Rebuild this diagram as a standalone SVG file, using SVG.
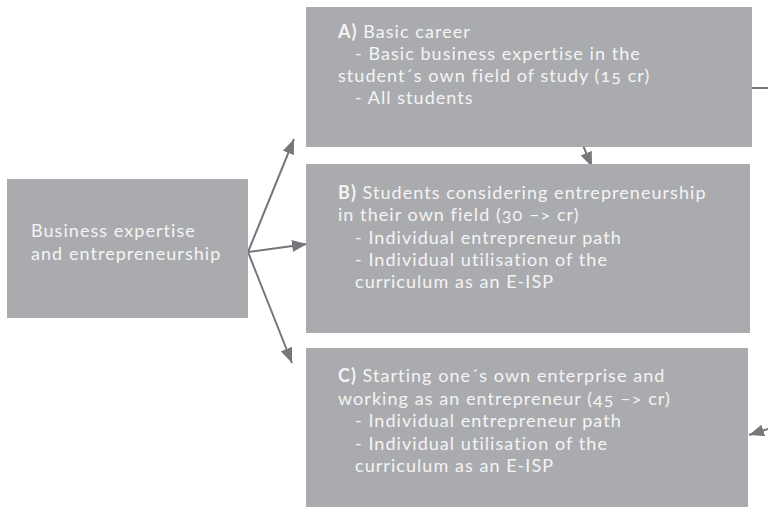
<svg xmlns="http://www.w3.org/2000/svg" width="768" height="512" viewBox="0 0 768 512">
  <defs>
    <marker id="ah" markerUnits="userSpaceOnUse" markerWidth="16" markerHeight="12" refX="15" refY="6" orient="auto">
      <path d="M0,0 L15,6 L0,12 z" fill="#77767b"/>
    </marker>
    <style>
      .box { fill: #aaabae; }
      .t { font-family: Lato, "Open Sans", sans-serif; font-size: 18px; letter-spacing: 1.05px; fill: #f4f4f4; font-variant-numeric: oldstyle-nums; }
      .b { font-weight: bold; }
      .c { stroke: #77767b; stroke-width: 2; fill: none; }
    </style>
  </defs>
  <rect width="768" height="512" fill="#ffffff"/>

  <g id="connectors">
    <line class="c" x1="248" y1="252" x2="294" y2="139" marker-end="url(#ah)"/>
    <line class="c" x1="248" y1="252" x2="307" y2="244" marker-end="url(#ah)"/>
    <line class="c" x1="248" y1="252" x2="292" y2="363" marker-end="url(#ah)"/>
    <line class="c" x1="582" y1="143" x2="592" y2="167" marker-end="url(#ah)"/>
    <line class="c" x1="752" y1="88" x2="768" y2="88"/>
    <line class="c" x1="790" y1="422" x2="749" y2="435" marker-end="url(#ah)"/>
  </g>

  <g id="root">
    <rect class="box" x="7" y="179" width="241" height="139"/>
    <text class="t" x="31" y="237">Business expertise</text>
    <text class="t" x="31" y="260">and entrepreneurship</text>
  </g>

  <g id="nodeA">
    <rect class="box" x="306" y="7" width="446" height="140"/>
    <text class="t" x="338" y="38"><tspan class="b">A)</tspan> Basic career</text>
    <text class="t" x="355" y="60">- Basic business expertise in the</text>
    <text class="t" x="338" y="82">student´s own field of study (15 cr)</text>
    <text class="t" x="355" y="104">- All students</text>
  </g>

  <g id="nodeB">
    <rect class="box" x="306" y="164" width="444" height="169"/>
    <text class="t" x="338" y="199"><tspan class="b">B)</tspan> Students considering entrepreneurship</text>
    <text class="t" x="338" y="221">in their own field (30 –&gt; cr)</text>
    <text class="t" x="355" y="244">- Individual entrepreneur path</text>
    <text class="t" x="355" y="266">- Individual utilisation of the</text>
    <text class="t" x="355" y="288">curriculum as an E-ISP</text>
  </g>

  <g id="nodeC">
    <rect class="box" x="306" y="348" width="442" height="159"/>
    <text class="t" x="338" y="382"><tspan class="b">C)</tspan> Starting one´s own enterprise and</text>
    <text class="t" x="338" y="405">working as an entrepreneur (45 –&gt; cr)</text>
    <text class="t" x="355" y="427">- Individual entrepreneur path</text>
    <text class="t" x="355" y="450">- Individual utilisation of the</text>
    <text class="t" x="355" y="472">curriculum as an E-ISP</text>
  </g>
</svg>
